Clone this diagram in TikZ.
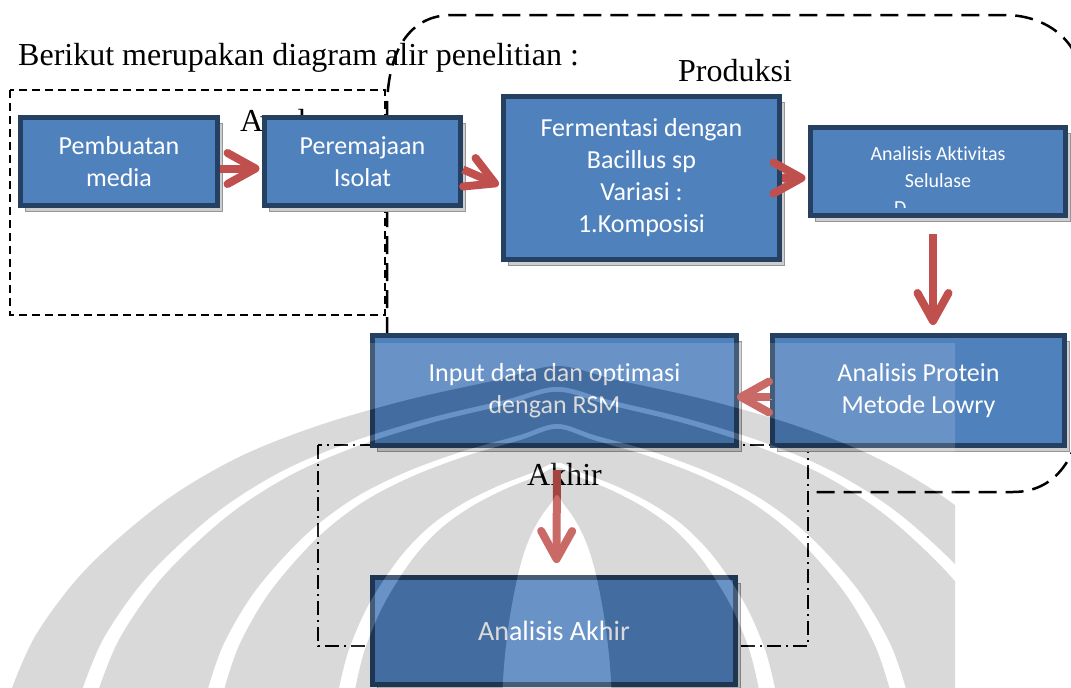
\documentclass[tikz,border=0pt]{standalone}
\usepackage{fontspec}
\setmainfont{Liberation Serif}
\newfontfamily\boxfont[Ligatures=NoCommon]{Carlito}
\usetikzlibrary{arrows.meta,shadows}

\definecolor{boxfill}{RGB}{79,129,189}
\definecolor{boxline}{RGB}{37,64,97}
\definecolor{arrowred}{RGB}{192,80,77}
\definecolor{shadowfill}{RGB}{205,205,205}
\definecolor{shadowline}{RGB}{150,150,150}

\tikzset{
  flowbox/.style={draw=boxline, fill=boxfill, line width=5pt, inner sep=0pt,
    align=center, text=white, font=\boxfont\fontsize{26}{32}\selectfont,
    general shadow={shadow xshift=5pt, shadow yshift=-6pt, fill=shadowfill,
      draw=shadowline, line width=1.5pt}},
  flowarrow/.style={draw=arrowred, line width=8pt,
    -{Straight Barb[length=28pt, width=31pt, round]},
    preaction={draw=shadowline, transform canvas={xshift=2pt, yshift=-2.5pt}}},
  boxtext/.style={anchor=base, inner sep=0pt, text=white,
    font=\boxfont\fontsize{20}{27}\selectfont},
  stagelabel/.style={anchor=base west, inner sep=0pt, font=\fontsize{32}{38}\selectfont},
  awalframe/.style={draw=black, line width=1.4pt, dash pattern=on 8pt off 5pt},
  produksiframe/.style={draw=black, line width=2.5pt, dash pattern=on 18pt off 9pt},
  akhirframe/.style={draw=black, line width=1.4pt, dash pattern=on 14pt off 5pt on 2pt off 5pt},
  emblemdark/.style={black, fill opacity=0.15, even odd rule},
  emblemlight/.style={white, fill opacity=0.15, even odd rule},
}

% one layer of the background emblem, scaled about its base centre
\newcommand\wmdome[2]{%
  ({557-545*#1},760) -- plot[smooth, tension=0.55] coordinates {
    ({557-545*#1},688) ({557-520*#1},{688-55*#2}) ({557-470*#1},{688-120*#2})
    ({557-395*#1},{688-185*#2}) ({557-320*#1},{688-230*#2}) ({557-240*#1},{688-262*#2})
    ({557-150*#1},{688-288*#2}) ({557-60*#1},{688-308*#2}) (557,{688-322*#2})
    ({557+60*#1},{688-308*#2}) ({557+150*#1},{688-288*#2}) ({557+240*#1},{688-262*#2})
    ({557+320*#1},{688-230*#2}) ({557+395*#1},{688-185*#2}) ({557+470*#1},{688-120*#2})
    ({557+520*#1},{688-55*#2}) ({557+545*#1},688)} -- ({557+545*#1},760) -- cycle }

\begin{document}
\begin{tikzpicture}[x=1pt,y=-1pt]
\useasboundingbox (0,0) rectangle (1071,688);

% heading
\node[anchor=base west, inner sep=0pt, font=\fontsize{32}{38}\selectfont] (title) at (18,65)
  {Berikut merupakan diagram alir penelitian :};

% stage labels and frames
\node[stagelabel] (awal) at (240,131) {Awal};
\draw[awalframe] (10,90) rectangle (385,315);
\draw[produksiframe] (387,335) -- (387,110) .. controls (387,50) and (410,15) .. (452,15)
  -- (1005,15) .. controls (1045,15) and (1082,40) .. (1082,85)
  -- (1082,400) .. controls (1082,450) and (1060,492) .. (1013,492) -- (808,492);
\node[stagelabel] (produksi) at (678,81) {Produksi};
\draw[akhirframe] (318,445) rectangle (808,646);
\node[stagelabel] (akhir) at (527,485) {Akhir};

% process boxes
\node[flowbox, minimum width=197pt, minimum height=88pt] (b1) at (119,161.5) {Pembuatan\\media};
\node[flowbox, minimum width=196pt, minimum height=88pt] (b2) at (362.5,161.5) {Peremajaan\\Isolat};
\node[flowbox, minimum width=276pt, minimum height=163pt] (b3) at (641.5,178)
  {Fermentasi dengan\\Bacillus sp\\Variasi :\\1.Komposisi};
\node[flowbox, minimum width=255pt, minimum height=88pt] (b4) at (938,171.5) {};
\node[flowbox, minimum width=292pt, minimum height=110pt] (b5) at (918.5,390.5)
  {Analisis Protein\\Metode Lowry};
\node[flowbox, minimum width=364pt, minimum height=110pt] (b6) at (554.5,390.5)
  {Input data dan optimasi\\dengan RSM};
\node[flowbox, minimum width=363pt, minimum height=107pt,
  font=\boxfont\fontsize{28}{34}\selectfont] (b7) at (554,631) {Analisis Akhir};

% text of the activity box, cut off by its inner edge
\begin{scope}
  \clip (813,130) rectangle (1063,207);
  \node[boxtext] (b4l1) at (938,160) {Analisis Aktivitas};
  \node[boxtext] (b4l2) at (938,187) {Selulase};
  \node[boxtext, anchor=base west] (b4l3) at (894,214) {D};
\end{scope}

% flow arrows
\draw[flowarrow, shorten >=2.5pt] ([yshift=-7pt]b1.east) -- ([yshift=-7pt]b2.west);
\draw[flowarrow, shorten >=2.5pt] ([yshift=-8pt]b2.east) -- ([yshift=-8pt]b3.west);
\draw[flowarrow, shorten >=2.5pt] (b3.east) -- ([yshift=-6.5pt]b4.west);
\draw[flowarrow, shorten <=16pt, shorten >=8pt] ([xshift=-5pt]b4.south) -- ([xshift=14.5pt]b5.north);
\draw[flowarrow, shorten >=-2pt] ([yshift=-6.5pt]b5.west) -- ([yshift=-6.5pt]b6.east);
\draw[flowarrow, shorten <=22pt, shorten >=12pt] ([xshift=2.5pt]b6.south) -- ([xshift=2.5pt]b7.north);

% faint emblem laid over the lower part of the page
\begin{scope}
  \clip (0,343) rectangle (955,688);
  \fill[emblemlight] (0,343) rectangle (955,760) \wmdome{1}{1};
  \fill[emblemdark]  \wmdome{1}{1} \wmdome{.87}{.935};
  \fill[emblemlight] \wmdome{.87}{.935} \wmdome{.84}{.92};
  \fill[emblemdark]  \wmdome{.84}{.92} \wmdome{.64}{.82};
  \fill[emblemlight] \wmdome{.64}{.82} \wmdome{.61}{.805};
  \fill[emblemdark]  \wmdome{.61}{.805} \wmdome{.40}{.70};
  \fill[emblemlight] \wmdome{.40}{.70} \wmdome{.37}{.685};
  \fill[emblemdark]  \wmdome{.37}{.685} \wmdome{.10}{.60};
  \fill[emblemlight] \wmdome{.10}{.60};
\end{scope}
\end{tikzpicture}
\end{document}
